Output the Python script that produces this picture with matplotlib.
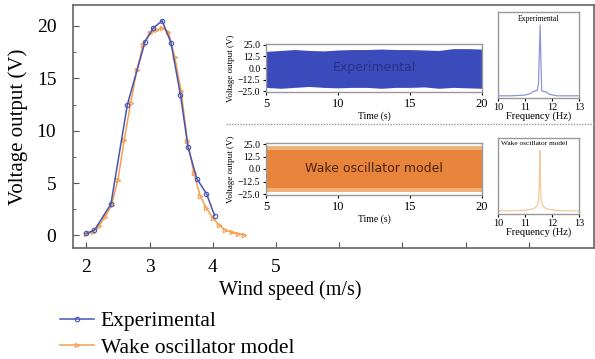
import numpy as np
import matplotlib
matplotlib.use('Agg')
from matplotlib import pyplot as plt
from matplotlib.lines import Line2D

plt.rcParams['font.family'] = ['Liberation Serif', 'DejaVu Serif']
plt.rcParams['mathtext.fontset'] = 'stix'

# main curve: voltage vs wind speed
exp_speed = [2.0, 2.13, 2.39, 2.65, 2.93, 3.06, 3.2, 3.34, 3.49, 3.61, 3.75, 3.9, 4.03]
exp_volt = [0.2, 0.5, 3.0, 12.5, 18.5, 19.8, 20.5, 18.4, 13.4, 8.4, 5.4, 4.0, 1.9]

model_speed = [2.0, 2.1, 2.2, 2.3, 2.4, 2.5, 2.6, 2.7, 2.8, 2.9, 3.0, 3.1, 3.2,
               3.3, 3.4, 3.5, 3.6, 3.7, 3.8, 3.9, 4.0, 4.1, 4.2, 4.3, 4.4, 4.5]
model_volt = [0.1, 0.35, 0.9, 1.8, 2.9, 5.3, 9.1, 12.6, 15.8, 18.2, 19.3, 19.6, 19.8,
              19.4, 17.0, 13.8, 9.0, 6.0, 3.8, 2.6, 1.7, 1.0, 0.5, 0.3, 0.15, 0.05]

xticks = [2, 3, 4, 5, 6, 7, 8, 9]
xticklabels = ['2', '3', '4', '5', '', '', '', '']

exp_t = [5, 6, 7, 8, 9, 10, 11, 12, 13, 14, 15, 16, 17, 18, 19, 20]
exp_upper = [18, 19, 20, 19, 18.5, 19.5, 20, 20, 20.5, 20, 20, 19.5, 19, 21, 21, 20.5]
exp_lower = [-21, -22, -21, -20, -21, -21.5, -21, -21, -22, -21, -21, -20.5, -22, -21, -21.5, -22]

mod_t = [5, 20]
mod_outer = [23, 23]
mod_inner = [19, 19]

# spectra
exp_f = [10, 10.5, 11.0, 11.2, 11.3, 11.45, 11.5, 11.53, 11.56, 11.59, 11.62, 11.68, 11.8, 11.9, 12.2, 13]
exp_amp = [0.03, 0.03, 0.04, 0.06, 0.09, 0.1, 0.2, 0.6, 1.0, 0.5, 0.1, 0.09, 0.08, 0.05, 0.03, 0.03]
mod_f = [10, 10.5, 11.0, 11.3, 11.45, 11.5, 11.53, 11.55, 11.57, 11.6, 11.65, 11.8, 12.1, 12.5, 13]
mod_amp = [0.05, 0.05, 0.06, 0.08, 0.13, 0.22, 0.45, 1.0, 0.45, 0.22, 0.13, 0.08, 0.06, 0.05, 0.05]

blue = '#4655b5'
orange = '#f5a04e'

fig = plt.figure(figsize=(5.95, 3.59), dpi=100)
W, H = 595.0, 359.0

def box(l, t, r, b):
    return [l / W, 1 - b / H, (r - l) / W, (b - t) / H]

ax = fig.add_axes(box(73, 5, 594, 248))
ax.plot(exp_speed, exp_volt, '-o', color=blue, lw=1.1, ms=3.2, mfc='none', mew=0.8,
        label='Experimental', zorder=3)
ax.plot(model_speed, model_volt, '->', color=orange, lw=1.1, ms=3.2, mfc='none', mew=0.8,
        label='Wake oscillator model', zorder=2)
ax.set_xlim(1.79, 10.03)
ax.set_ylim(-1.2, 22)
ax.set_xticks(xticks)
ax.set_xticklabels(xticklabels)
ax.set_yticks([0, 5, 10, 15, 20])
ax.set_yticks([2.5, 7.5, 12.5, 17.5], minor=True)
ax.tick_params(direction='in', labelsize=14, length=4, color='#555555')
ax.tick_params(axis='y', pad=12)
ax.tick_params(axis='x', pad=8)
ax.tick_params(which='minor', direction='in', length=2.5, color='#555555')
for s in ax.spines.values():
    s.set_color('#666666')
    s.set_linewidth(1.2)
ax.set_ylabel('Voltage output (V)', fontsize=15)
ax.yaxis.set_label_coords(-0.086, 0.5)
fig.text(290 / W, 1 - 290 / H, 'Wind speed (m/s)', fontsize=14.5, ha='center', va='center')

fig.legend(loc='upper left', bbox_to_anchor=(60 / W, 1 - 311 / H), frameon=False,
           fontsize=15.5, handlelength=1.6, handletextpad=0.3, labelspacing=0.3,
           borderaxespad=0, borderpad=0)

# dotted separator
fig.add_artist(Line2D([226 / W, 1.0], [1 - 124 / H] * 2, transform=fig.transFigure,
                      color='#999999', lw=1.0, ls=(0, (1, 1))))

def style_inset(a):
    for s in a.spines.values():
        s.set_color('#999999')
        s.set_linewidth(1.0)

# experimental time series
a1 = fig.add_axes(box(266, 44, 482, 92))
a1.fill_between(exp_t, exp_lower, exp_upper, color='#3c4bbb', lw=0)
a1.set_xlim(5, 20)
a1.set_ylim(-26, 26)
a1.set_yticks([25, 12.5, 0, -12.5, -25])
a1.set_yticklabels(['25.0', '12.5', '0.0', '\u221212.5', '\u221225.0'])
a1.set_xticks([5, 10, 15, 20])
a1.tick_params(axis='y', labelsize=7, length=2.5, pad=1.5)
a1.tick_params(axis='x', labelsize=9, length=2.5, pad=1.5)
a1.set_xlabel('Time (s)', fontsize=7, labelpad=1)
a1.set_ylabel('Voltage output (V)', fontsize=6.5, labelpad=2)
a1.text(0.5, 0.5, 'Experimental', transform=a1.transAxes, ha='center', va='center',
        fontsize=9, color='#26308a', family='DejaVu Sans')
style_inset(a1)

# model time series
a3 = fig.add_axes(box(266, 143, 482, 195))
a3.fill_between(mod_t, [-v for v in mod_outer], mod_outer, color='#f2b07a', lw=0)
a3.fill_between(mod_t, [-v for v in mod_inner], mod_inner, color='#e9843c', lw=0)
a3.set_xlim(5, 20)
a3.set_ylim(-26, 26)
a3.set_yticks([25, 12.5, 0, -12.5, -25])
a3.set_yticklabels(['25.0', '12.5', '0.0', '\u221212.5', '\u221225.0'])
a3.set_xticks([5, 10, 15, 20])
a3.tick_params(axis='y', labelsize=7, length=2.5, pad=1.5)
a3.tick_params(axis='x', labelsize=9, length=2.5, pad=1.5)
a3.set_xlabel('Time (s)', fontsize=7, labelpad=1)
a3.set_ylabel('Voltage output (V)', fontsize=6.5, labelpad=2)
a3.text(0.5, 0.5, 'Wake oscillator model', transform=a3.transAxes, ha='center', va='center',
        fontsize=9, color='#4a2410', family='DejaVu Sans')
style_inset(a3)

# spectra
a2 = fig.add_axes(box(498, 12, 579, 98))
a2.plot(exp_f, exp_amp, color='#8f95d6', lw=0.9)
a2.set_xlim(10, 13)
a2.set_ylim(0, 1.18)
a2.set_yticks([])
a2.set_xticks([10, 11, 12, 13])
a2.tick_params(axis='x', labelsize=7.5, length=2, pad=1.5)
a2.set_xlabel('Frequency (Hz)', fontsize=7.5, labelpad=0)
a2.text(0.5, 0.96, 'Experimental', transform=a2.transAxes, ha='center', va='top', fontsize=5.5)
style_inset(a2)

a4 = fig.add_axes(box(498, 138, 579, 214))
a4.plot(mod_f, mod_amp, color='#f5c99a', lw=0.9)
a4.set_xlim(10, 13)
a4.set_ylim(0, 1.2)
a4.set_yticks([])
a4.set_xticks([10, 11, 12, 13])
a4.tick_params(axis='x', labelsize=7.5, length=2, pad=1.5)
a4.set_xlabel('Frequency (Hz)', fontsize=7.5, labelpad=0)
a4.text(0.04, 0.96, 'Wake oscillator model', transform=a4.transAxes, ha='left', va='top', fontsize=5.3)
style_inset(a4)

fig.savefig('out.png', dpi=100)
